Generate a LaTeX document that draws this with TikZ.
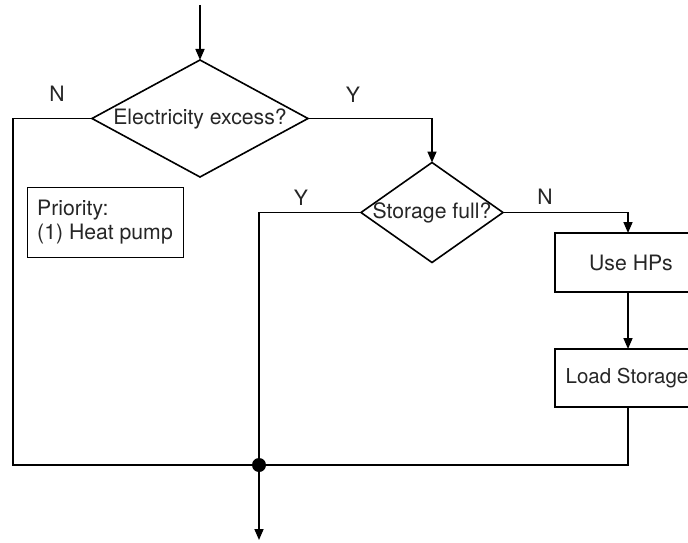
\documentclass[tikz,border=0pt]{standalone}
\usepackage{fontspec}
\setmainfont{TeX Gyre Heros}
\usetikzlibrary{shapes.geometric,arrows.meta}
\begin{document}
\begin{tikzpicture}[x=1pt,y=-1pt,
  line width=1.6pt,
  font=\fontsize{21.2}{24.5}\selectfont,
  txt/.style={text=black!85},
  dia/.style={draw, diamond, inner sep=0pt, outer sep=0pt},
  box/.style={draw, rectangle, inner sep=0pt, outer sep=0pt, minimum width=146pt},
  arr/.style={-{Triangle[length=11pt,width=9pt]}},
  lbl/.style={inner sep=0pt, text=black!85}]
\useasboundingbox (0,0) rectangle (688,543);
\clip (0,0) rectangle (688,543);
\fill[white] (0,0) rectangle (688,543);

\coordinate (start) at (200,5);
\coordinate (bl) at (13,465);
\coordinate (endp) at (259,540);

\node[dia, minimum width=216pt, minimum height=117pt,
  label={[txt]center:Electricity excess?}] (d1) at (200,118.5) {};
\node[dia, minimum width=142pt, minimum height=100pt,
  label={[txt]center:Storage full?}] (d2) at (432,212.5) {};
\node[box, minimum height=59pt,
  label={[txt,xshift=3pt]center:Use HPs}] (hp) at (628,262.5) {};
\node[box, minimum height=58pt,
  label={[txt,xshift=-1pt,font=\fontsize{20.5}{24}\selectfont]center:Load Storage}] (ls) at (628,378) {};
\node[draw, line width=0.8pt, rectangle, minimum width=156pt, minimum height=70pt,
  align=left, txt] (pr) at (105,222) {Priority:\\(1) Heat pump};
\node[circle, fill=black, inner sep=0pt, minimum size=14pt] (j) at (259,465) {};

\node[lbl] (n1) at (57,94) {N};
\node[lbl] (y1) at (353,95) {Y};
\node[lbl] (y2) at (301,198) {Y};
\node[lbl] (n2) at (545,197) {N};

\draw[arr] (start) -- (d1.north);
\draw (d1.west) -| (bl) -- (j.center);
\draw[arr] (d1.east) -| (d2.north);
\draw (d2.west) -| (j.center);
\draw[arr] (d2.east) -| (hp.north);
\draw[arr] (hp.south) -- (ls.north);
\draw (ls.south) |- (j.center);
\draw[arr] (j.center) -- (endp);
\end{tikzpicture}
\end{document}
